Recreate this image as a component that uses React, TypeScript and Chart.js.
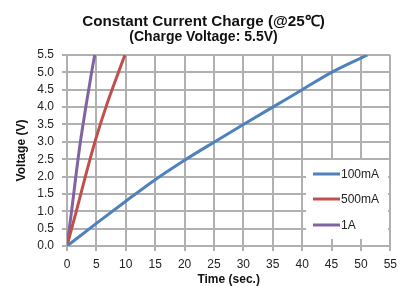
import React, { useEffect, useRef } from "react";
import { Chart, registerables } from "chart.js";

Chart.register(...registerables);

const seriesNames = ["100mA", "500mA", "1A"];
const seriesColors = ["#4F81BD", "#C0504D", "#8064A2"];

const time100mA = [0, 5, 10, 15, 20, 25, 30, 35, 40, 45, 51.1];
const volt100mA = [0, 0.65, 1.29, 1.91, 2.47, 2.99, 3.5, 4.0, 4.5, 5.0, 5.5];

const time500mA = [0, 1.58, 3.12, 4.75, 6.62, 8.75, 9.85];
const volt500mA = [0, 1.0, 2.0, 3.0, 4.0, 5.0, 5.5];

const time1A = [0, 0.78, 1.5, 2.28, 3.2, 4.18, 4.71];
const volt1A = [0, 1.0, 2.0, 3.0, 4.0, 5.0, 5.5];

const xTicks = [0, 5, 10, 15, 20, 25, 30, 35, 40, 45, 50, 55];
const yTicks = [0, 0.5, 1, 1.5, 2, 2.5, 3, 3.5, 4, 4.5, 5, 5.5];

const FONT = "'Liberation Sans', Arial, sans-serif";
const GRID = "#b0b0b0";

const pts = (xs: number[], ys: number[]) => xs.map((x, i) => ({ x, y: ys[i] }));

// grid drawn behind everything already painted (destination-over)
const gridPlugin = {
  id: "excelGrid",
  afterDraw(chart: any) {
    const { ctx, chartArea: a, scales } = chart;
    ctx.save();
    ctx.globalCompositeOperation = "destination-over";
    ctx.strokeStyle = GRID;
    ctx.lineWidth = 2;
    ctx.beginPath();
    xTicks.forEach((v) => {
      const px = Math.round(scales.x.getPixelForValue(v));
      ctx.moveTo(px, a.top);
      ctx.lineTo(px, a.bottom + 5);
    });
    yTicks.forEach((v) => {
      const py = Math.round(scales.y.getPixelForValue(v));
      ctx.moveTo(a.left - 5, py);
      ctx.lineTo(a.right, py);
    });
    ctx.stroke();
    ctx.restore();
  },
};

const legendPlugin = {
  id: "insideLegend",
  beforeDatasetsDraw(chart: any) {
    const { ctx } = chart;
    const box = { x: 306, y: 160, w: 82, h: 79 };
    ctx.save();
    ctx.fillStyle = "#ffffff";
    ctx.fillRect(box.x, box.y, box.w, box.h);
    ctx.font = `12px ${FONT}`;
    ctx.textBaseline = "middle";
    const rows = [174, 199, 225];
    seriesNames.forEach((name, i) => {
      ctx.strokeStyle = seriesColors[i];
      ctx.lineWidth = 3;
      ctx.beginPath();
      ctx.moveTo(313, rows[i]);
      ctx.lineTo(340, rows[i]);
      ctx.stroke();
      ctx.fillStyle = "#222";
      ctx.fillText(name, 341, rows[i] + 0.5);
    });
    ctx.restore();
  },
};

export default function App() {
  const ref = useRef<HTMLCanvasElement | null>(null);
  useEffect(() => {
    if (!ref.current) return;
    const chart = new Chart(ref.current, {
      type: "line",
      data: {
        datasets: [
          { label: seriesNames[0], data: pts(time100mA, volt100mA) },
          { label: seriesNames[1], data: pts(time500mA, volt500mA) },
          { label: seriesNames[2], data: pts(time1A, volt1A) },
        ].map((d, i) => ({
          ...d,
          borderColor: seriesColors[i],
          backgroundColor: seriesColors[i],
          borderWidth: 3,
          pointRadius: 0,
          cubicInterpolationMode: "monotone" as const,
          fill: false,
        })),
      },
      options: {
        animation: false,
        responsive: false,
        maintainAspectRatio: false,
        layout: { padding: { left: 14, right: 10, top: 0, bottom: 0 } },
        plugins: {
          legend: { display: false },
          tooltip: { enabled: false },
          title: {
            display: true,
            text: "Constant Current Charge (@25℃)",
            color: "#111",
            font: { family: FONT, size: 15.2, weight: "bold", lineHeight: 1.1 },
            padding: { top: 13.5, bottom: 0 },
          },
          subtitle: {
            display: true,
            text: "(Charge Voltage: 5.5V)",
            color: "#111",
            font: { family: FONT, size: 14, weight: "bold", lineHeight: 1.0 },
            padding: { top: 0, bottom: 10.8 },
          },
        },
        scales: {
          x: {
            type: "linear",
            min: 0,
            max: 55,
            afterBuildTicks: (s: any) => {
              s.ticks = xTicks.map((v) => ({ value: v }));
            },
            afterFit: (s: any) => {
              s.height = 40;
            },
            ticks: {
              autoSkip: false,
              color: "#222",
              font: { family: FONT, size: 12 },
              padding: 6,
              maxRotation: 0,
            },
            grid: { display: false, tickLength: 5 },
            border: { display: false },
            title: {
              display: true,
              text: "Time (sec.)",
              color: "#111",
              font: { family: FONT, size: 12, weight: "bold", lineHeight: 1.0 },
              padding: 0,
            },
          },
          y: {
            type: "linear",
            min: 0,
            max: 5.5,
            afterBuildTicks: (s: any) => {
              s.ticks = yTicks.map((v) => ({ value: v }));
            },
            afterFit: (s: any) => {
              s.width = 53;
            },
            ticks: {
              autoSkip: false,
              color: "#222",
              font: { family: FONT, size: 12 },
              padding: 8,
              callback: (v: any) => Number(v).toFixed(1),
            },
            grid: { display: false, tickLength: 5 },
            border: { display: false },
            title: {
              display: true,
              text: "Voltage (V)",
              color: "#111",
              font: { family: FONT, size: 12, weight: "bold" },
              padding: 0,
            },
          },
        },
      },
      plugins: [gridPlugin, legendPlugin],
    });
    return () => chart.destroy();
  }, []);
  return (
    <div style={{ position: "fixed", left: 0, top: 0, width: 403, height: 286, background: "#fff" }}>
      <canvas ref={ref} width={403} height={286} style={{ width: 403, height: 286 }} />
    </div>
  );
}
